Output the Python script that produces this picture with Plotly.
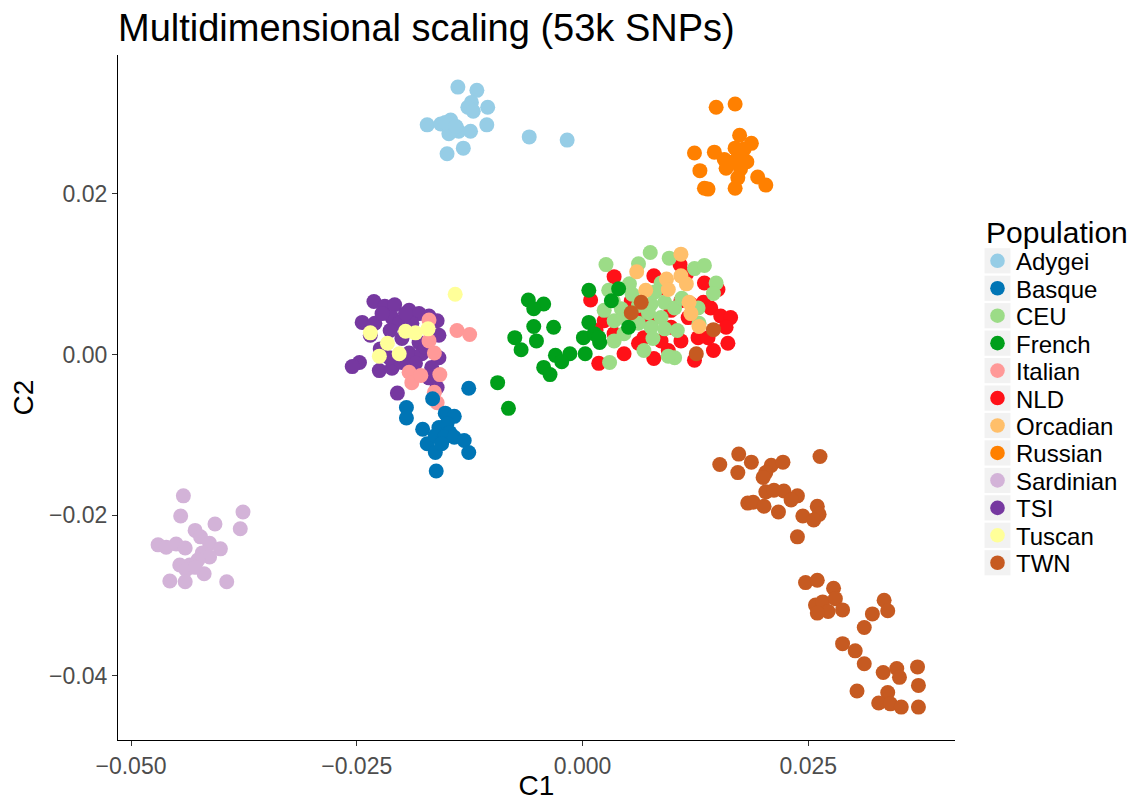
import plotly.graph_objects as go

populations = ["Adygei", "Basque", "CEU", "French", "Italian", "NLD",
               "Orcadian", "Russian", "Sardinian", "TSI", "Tuscan", "TWN"]
colors = ["#96CDE6", "#0075B5", "#9CDC87", "#009F1A", "#FF9998", "#FF1118",
          "#FFBF6A", "#FF8000", "#D3B3D8", "#7638A0", "#FFFF99", "#C65A21"]

adygei_c1 = [-0.0138, -0.0117, -0.0123, -0.0127, -0.0121, -0.0105, -0.0172, -0.0157, -0.0146, -0.0147,
             -0.0137, -0.0148, -0.0124, -0.0106, -0.0132, -0.0150, -0.0059, -0.0017, -0.0152, -0.0140]
adygei_c2 = [0.0333, 0.0329, 0.0314, 0.0308, 0.0303, 0.0308, 0.0286, 0.0287, 0.0292, 0.0282,
             0.0278, 0.0275, 0.0278, 0.0286, 0.0257, 0.0250, 0.0271, 0.0267, 0.0289, 0.0284]

basque_c1 = [-0.0126, -0.0166, -0.0195, -0.0195, -0.0152, -0.0142, -0.0177, -0.0159, -0.0150, -0.0147,
             -0.0172, -0.0163, -0.0153, -0.0142, -0.0131, -0.0163, -0.0126, -0.0162, -0.0156]
basque_c2 = [-0.0042, -0.0055, -0.0066, -0.0079, -0.0073, -0.0077, -0.0093, -0.0091, -0.0086, -0.0097,
             -0.0111, -0.0101, -0.0103, -0.0103, -0.0107, -0.0122, -0.0122, -0.0145, -0.0111]

ceu_c1 = [0.0075, 0.0026, 0.0096, 0.0062, 0.0124, 0.0135, 0.0052, 0.0029, 0.0087, 0.0148,
          0.0145, 0.0034, 0.0024, 0.0043, 0.0062, 0.0076, 0.0091, 0.0102, 0.0073, 0.0087,
          0.0035, 0.0062, 0.0076, 0.0091, 0.0046, 0.0078, 0.0035, 0.0102, 0.0030, 0.0128,
          0.0129, 0.0046, 0.0110, 0.0055, 0.0080, 0.0105, 0.0068, 0.0095]
ceu_c2 = [0.0127, 0.0112, 0.0120, 0.0113, 0.0107, 0.0111, 0.0088, 0.0080, 0.0089, 0.0089,
          0.0076, 0.0067, 0.0055, 0.0057, 0.0061, 0.0063, 0.0065, 0.0058, 0.0052, 0.0046,
          0.0042, 0.0039, 0.0034, 0.0032, 0.0026, 0.0020, 0.0017, -0.0004, -0.0010, 0.0058,
          0.0039, 0.0046, 0.0070, 0.0075, 0.0078, 0.0030, 0.0005, -0.0002]

french_c1 = [-0.0060, -0.0043, -0.0054, 0.0007, -0.0075, -0.0054, -0.0032, -0.0051, -0.0068, 0.0007,
             0.0001, 0.0013, 0.0019, -0.0030, -0.0014, -0.0023, 0.0003, -0.0043, -0.0036, -0.0094,
             -0.0082, 0.0040, 0.0018, 0.0051, 0.0032]
french_c2 = [0.0068, 0.0063, 0.0057, 0.0080, 0.0021, 0.0035, 0.0034, 0.0017, 0.0006, 0.0040,
             0.0021, 0.0026, 0.0015, -0.0001, 0.0001, -0.0009, 0.0001, -0.0016, -0.0025, -0.0035,
             -0.0067, 0.0082, 0.0021, 0.0034, 0.0067]

italian_c1 = [-0.0170, -0.0139, -0.0125, -0.0170, -0.0164, -0.0192, -0.0189, -0.0179, -0.0158, -0.0164, -0.0161]
italian_c2 = [0.0043, 0.0030, 0.0025, 0.0017, 0.0002, -0.0022, -0.0035, -0.0026, -0.0025, -0.0047, -0.0060]

nld_c1 = [0.0035, 0.0108, 0.0079, 0.0009, 0.0135, 0.0150, 0.0134, 0.0142, 0.0153, 0.0164,
          0.0159, 0.0161, 0.0145, 0.0124, 0.0095, 0.0079, 0.0062, 0.0046, 0.0018, 0.0076,
          0.0098, 0.0109, 0.0117, 0.0098, 0.0087, 0.0128, 0.0139, 0.0054, 0.0024, 0.0035,
          0.0068, 0.0109, 0.0120, 0.0062, 0.0087, 0.0115, 0.0015, 0.0045]
nld_c2 = [0.0097, 0.0112, 0.0098, 0.0068, 0.0089, 0.0081, 0.0065, 0.0058, 0.0048, 0.0046,
          0.0034, 0.0014, 0.0005, -0.0007, 0.0005, -0.0005, 0.0014, 0.0001, -0.0011, 0.0042,
          0.0034, 0.0017, 0.0046, 0.0055, 0.0083, 0.0021, 0.0021, 0.0067, 0.0042, 0.0026,
          0.0021, 0.0067, 0.0063, 0.0051, 0.0017, 0.0100, 0.0030, 0.0050]

orcadian_c1 = [0.0109, 0.0060, 0.0070, 0.0093, 0.0109, 0.0115, 0.0095, 0.0118, 0.0120, 0.0129]
orcadian_c2 = [0.0125, 0.0103, 0.0080, 0.0094, 0.0098, 0.0088, 0.0081, 0.0065, 0.0051, 0.0035]

russian_c1 = [0.0148, 0.0169, 0.0174, 0.0187, 0.0124, 0.0146, 0.0157, 0.0169, 0.0179, 0.0172,
              0.0182, 0.0159, 0.0175, 0.0130, 0.0172, 0.0194, 0.0203, 0.0135, 0.0139, 0.0169, 0.0164]
russian_c2 = [0.0308, 0.0312, 0.0273, 0.0263, 0.0251, 0.0252, 0.0243, 0.0257, 0.0256, 0.0245,
              0.0240, 0.0232, 0.0231, 0.0229, 0.0220, 0.0221, 0.0211, 0.0207, 0.0206, 0.0207, 0.0239]

sardinian_c1 = [-0.0442, -0.0445, -0.0376, -0.0407, -0.0379, -0.0429, -0.0423, -0.0470, -0.0461, -0.0450,
                -0.0440, -0.0413, -0.0401, -0.0421, -0.0413, -0.0426, -0.0446, -0.0435, -0.0439, -0.0419,
                -0.0457, -0.0440, -0.0394, -0.0429]
sardinian_c2 = [-0.0176, -0.0201, -0.0196, -0.0211, -0.0217, -0.0219, -0.0227, -0.0237, -0.0240, -0.0236,
                -0.0241, -0.0235, -0.0242, -0.0247, -0.0252, -0.0256, -0.0262, -0.0262, -0.0268, -0.0273,
                -0.0282, -0.0283, -0.0283, -0.0265]

tsi_c1 = [-0.0231, -0.0219, -0.0208, -0.0192, -0.0181, -0.0170, -0.0244, -0.0230, -0.0211, -0.0203,
          -0.0189, -0.0161, -0.0235, -0.0200, -0.0181, -0.0159, -0.0224, -0.0192, -0.0178, -0.0159,
          -0.0247, -0.0255, -0.0225, -0.0211, -0.0167, -0.0170, -0.0205, -0.0161, -0.0213, -0.0174,
          -0.0214, -0.0185, -0.0200, -0.0196, -0.0222]
tsi_c2 = [0.0066, 0.0060, 0.0062, 0.0055, 0.0051, 0.0048, 0.0040, 0.0039, 0.0046, 0.0039,
          0.0039, 0.0042, 0.0024, 0.0020, 0.0015, 0.0024, 0.0007, 0.0002, 0.0001, -0.0004,
          -0.0010, -0.0015, -0.0020, -0.0017, -0.0016, -0.0029, -0.0048, -0.0041, 0.0030, 0.0009,
          -0.0004, -0.0011, -0.0010, 0.0051, 0.0051]

tuscan_c1 = [-0.0141, -0.0235, -0.0196, -0.0185, -0.0171, -0.0216, -0.0225, -0.0203]
tuscan_c2 = [0.0075, 0.0027, 0.0029, 0.0027, 0.0032, 0.0014, -0.0002, 0.0001]

twn_c1 = [0.0173, 0.0152, 0.0187, 0.0172, 0.0209, 0.0222, 0.0263, 0.0203, 0.0200, 0.0203,
          0.0212, 0.0223, 0.0238, 0.0183, 0.0189, 0.0201, 0.0217, 0.0231, 0.0244, 0.0260,
          0.0262, 0.0256, 0.0238,
          0.0247, 0.0260, 0.0278, 0.0258, 0.0266, 0.0272, 0.0260, 0.0280, 0.0288, 0.0334,
          0.0338, 0.0321, 0.0312, 0.0288, 0.0302, 0.0312, 0.0333, 0.0348, 0.0351, 0.0371,
          0.0372, 0.0304, 0.0338, 0.0328, 0.0341, 0.0353, 0.0372,
          0.0065, 0.0054, 0.0145, 0.0126]
twn_c2 = [-0.0124, -0.0137, -0.0134, -0.0147, -0.0138, -0.0134, -0.0127, -0.0147, -0.0153, -0.0171,
          -0.0169, -0.0170, -0.0176, -0.0185, -0.0184, -0.0189, -0.0196, -0.0181, -0.0201, -0.0189,
          -0.0199, -0.0206, -0.0227,
          -0.0284, -0.0281, -0.0291, -0.0312, -0.0308, -0.0320, -0.0322, -0.0304, -0.0318, -0.0306,
          -0.0319, -0.0323, -0.0340, -0.0360, -0.0369, -0.0385, -0.0396, -0.0391, -0.0402, -0.0389,
          -0.0412, -0.0419, -0.0421, -0.0434, -0.0435, -0.0439, -0.0439,
          0.0065, 0.0052, 0.0031, 0.0001]

data = {
    "Adygei": (adygei_c1, adygei_c2), "Basque": (basque_c1, basque_c2),
    "CEU": (ceu_c1, ceu_c2), "French": (french_c1, french_c2),
    "Italian": (italian_c1, italian_c2), "NLD": (nld_c1, nld_c2),
    "Orcadian": (orcadian_c1, orcadian_c2), "Russian": (russian_c1, russian_c2),
    "Sardinian": (sardinian_c1, sardinian_c2), "TSI": (tsi_c1, tsi_c2),
    "Tuscan": (tuscan_c1, tuscan_c2), "TWN": (twn_c1, twn_c2),
}

draw_order = ["Adygei", "Russian", "Sardinian", "NLD", "CEU", "French", "Orcadian",
              "TSI", "Italian", "Tuscan", "Basque", "TWN"]

FONT = "Liberation Sans, Arial, Helvetica, sans-serif"

# figure geometry (the page body adds an 8px offset)
OFF = 8
W, H = 1139 - OFF, 801 - OFF
PL, PR, PT, PB = 118, 955, 55, 740   # plot area in screen pixels


def px_x(sx):
    return (sx - PL) / (PR - PL)


def px_y(sy):
    return (PB - sy) / (PB - PT)


fig = go.Figure()
for name in draw_order:
    i = populations.index(name)
    xs, ys = data[name]
    fig.add_trace(go.Scatter(
        x=xs, y=ys, mode="markers", name=name, legendrank=i + 1, showlegend=False,
        marker=dict(color=colors[i], size=15, line=dict(width=0), opacity=1),
    ))

# ggplot-style legend: grey key boxes, dots and labels
shapes = []
annotations = []
annotations.append(dict(text="Population", xref="paper", yref="paper", x=px_x(984), y=px_y(232),
                        xanchor="left", yanchor="middle", showarrow=False,
                        font=dict(size=30, color="black", family=FONT)))
for k, name in enumerate(populations):
    cy = 260.8 + 27.45 * k
    shapes.append(dict(type="rect", xref="paper", yref="paper",
                       x0=px_x(984.5), x1=px_x(1010.5), y0=px_y(cy + 12.6), y1=px_y(cy - 12.6),
                       fillcolor="#F2F2F2", line=dict(width=0), layer="below"))
    shapes.append(dict(type="circle", xref="paper", yref="paper",
                       xsizemode="pixel", ysizemode="pixel",
                       xanchor=px_x(997.5), yanchor=px_y(cy),
                       x0=-7.3, x1=7.3, y0=-7.3, y1=7.3,
                       fillcolor=colors[k], line=dict(width=0)))
    annotations.append(dict(text=name, xref="paper", yref="paper", x=px_x(1014), y=px_y(cy + 1),
                            xanchor="left", yanchor="middle", showarrow=False,
                            font=dict(size=24, color="black", family=FONT)))

fig.update_layout(
    width=W, height=H,
    paper_bgcolor="white", plot_bgcolor="white",
    margin=dict(l=PL - OFF, r=W - (PR - OFF), t=PT - OFF, b=H - (PB - OFF), autoexpand=False),
    font=dict(family=FONT, color="black"),
    title=dict(text="Multidimensional scaling (53k SNPs)", x=(118 - OFF) / W, xanchor="left",
               y=1 - (28 - OFF) / H, yanchor="middle", font=dict(size=38, color="black")),
    xaxis=dict(range=[-0.05144, 0.04125], tickvals=[-0.05, -0.025, 0, 0.025], tickformat=".3f",
               showline=True, linecolor="black", linewidth=1.3, ticks="outside", ticklen=5,
               tickcolor="#333333", tickfont=dict(size=23, color="#4D4D4D"),
               showgrid=False, zeroline=False, automargin=False,
               title=dict(text="C1", font=dict(size=28, color="black"), standoff=3)),
    yaxis=dict(range=[-0.0480, 0.0373], tickvals=[-0.04, -0.02, 0, 0.02], tickformat=".2f",
               showline=True, linecolor="black", linewidth=1.3, ticks="outside", ticklen=5,
               tickcolor="#333333", tickfont=dict(size=23, color="#4D4D4D"),
               showgrid=False, zeroline=False, automargin=False,
               title=dict(text="C2", font=dict(size=28, color="black"), standoff=8)),
    shapes=shapes,
    annotations=annotations,
    showlegend=False,
)

fig.write_html("out.html")
